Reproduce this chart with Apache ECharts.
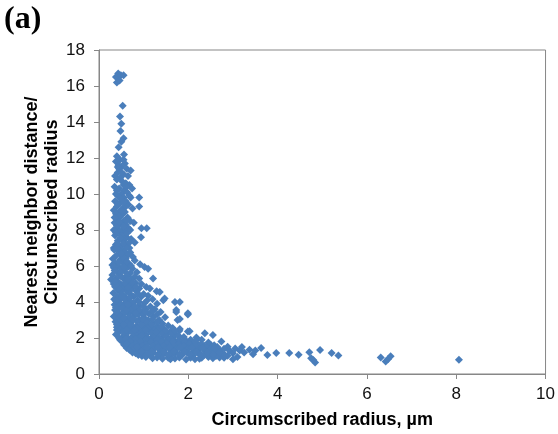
<!DOCTYPE html>
<html>
<head>
<meta charset="utf-8">
<script src="https://cdn.jsdelivr.net/npm/echarts@6/dist/echarts.min.js"></script>
<style>html,body{margin:0;padding:0;background:#fff;}#c{width:558px;height:434px;}</style>
</head>
<body>
<div id="c"></div>
<script>
// Axis ticks
const xTicks = [0, 2, 4, 6, 8, 10];
const yTicks = [0, 2, 4, 6, 8, 10, 12, 14, 16, 18];

// Data: [circumscribed radius (um), NN distance / radius]
const pointsTop = [
  [0.38,16.5],[0.43,16.7],[0.49,16.6],[0.55,16.6],[0.40,16.2],[0.46,16.3],[0.53,14.9],[0.47,14.3],
  [0.50,13.9],[0.48,13.5],[0.55,13.1],[0.50,12.9],[0.44,12.6],[0.40,12.1],[0.47,11.9],[0.56,12.2]
];
const pointsColumn = [
  [0.38,11.8],[0.44,11.6],[0.50,11.5],[0.58,11.7],[0.62,11.4],[0.71,11.3],[0.42,11.2],[0.55,11.1],[0.36,11.0],[0.48,10.9],[0.65,11.0],
  [0.40,10.8],[0.52,10.7],[0.60,10.6],[0.68,10.5],[0.35,10.4],[0.45,10.3],[0.57,10.2],[0.74,10.3],[0.38,10.0],[0.50,10.0],[0.63,10.1],
  [0.42,9.9],[0.55,9.8],[0.71,9.8],[0.90,9.8],[0.36,9.6],[0.48,9.5],[0.60,9.6],[0.66,9.4],[0.40,9.3],[0.53,9.2],[0.90,9.3],[0.75,9.2],[0.33,9.1],[0.45,9.0],[0.58,9.0],
  [0.38,8.9],[0.50,8.8],[0.64,8.7],[0.42,8.6],[0.55,8.5],[0.70,8.5],[0.35,8.4],[0.47,8.3],[0.60,8.3],[0.78,8.4],[0.40,8.1],[0.52,8.0],[0.66,8.1],[0.95,8.1],[1.07,8.1],[0.33,8.0],[0.58,7.9],
  [0.45,7.9],[0.36,7.7],[0.50,7.7],[0.62,7.6],[0.94,7.6],[0.72,7.5],[0.42,7.4],[0.55,7.4],[0.38,7.2],[0.48,7.1],[0.60,7.2],[0.68,7.0],[0.80,7.3],[0.33,7.0],[0.52,6.9],
  [0.34,6.9],[0.45,6.85],[0.58,6.8],[0.70,6.75],[0.39,6.6],[0.52,6.55],[0.64,6.6],[0.76,6.5],[0.31,6.4],[0.47,6.35],[0.60,6.4],[0.80,6.3],[0.36,6.2],[0.55,6.15],[0.68,6.1],[0.42,6.0],[0.62,5.95],[0.92,6.1],[1.02,5.95],[1.10,5.85],[0.30,6.05],
  [0.33,5.9],[0.50,5.85],[0.75,5.85],[0.40,5.7],[0.58,5.7],[0.70,5.6],[0.85,5.65],[0.30,5.5],[0.46,5.5],[0.63,5.45],[0.80,5.4],[0.27,5.25],[0.38,5.3],[0.55,5.3],[0.72,5.25],[0.90,5.3],[1.21,5.3],[0.44,5.1],[0.60,5.1],[0.82,5.05],[0.33,5.0],[0.50,4.95],[0.68,4.95],[0.95,5.0],[1.06,4.84]
];
const pointsBlob = [
  [0.36,4.85],[0.56,4.8],[0.76,4.8],[0.90,4.75],[1.14,4.75],[0.42,4.65],[0.62,4.6],[0.84,4.6],[1.29,4.6],[1.36,4.55],[0.32,4.5],[0.50,4.45],[0.70,4.45],[1.00,4.45],[0.40,4.3],[0.58,4.3],[0.78,4.3],[0.95,4.3],[1.10,4.35],[1.44,4.1],[0.34,4.15],[0.48,4.15],[0.66,4.1],[0.86,4.1],[1.20,4.15],[1.47,4.2],[1.70,4.0],[1.81,4.0],[0.42,4.0],[0.60,3.95],[0.76,3.95],[1.02,3.95],[1.30,3.9],
  [0.35,3.85],[0.52,3.8],[0.70,3.8],[0.90,3.8],[1.15,3.75],[0.44,3.65],[0.62,3.65],[0.82,3.6],[1.05,3.6],[1.25,3.6],[0.36,3.55],[1.73,3.55],[0.55,3.5],[0.75,3.45],[0.95,3.45],[1.38,3.45],[1.73,3.45],[0.40,3.35],[0.66,3.35],[0.88,3.3],[1.12,3.35],[1.30,3.3],[1.99,3.3],[1.99,3.37],[0.33,3.2],[0.50,3.2],[0.78,3.2],[1.00,3.15],[1.22,3.2],[1.48,3.15],[0.42,3.05],[0.60,3.05],[0.90,3.0],[1.10,3.0],[1.35,3.0],[1.76,3.0],[1.81,3.05],
  [0.37,2.9],[0.54,2.9],[0.72,2.85],[0.98,2.85],[1.20,2.85],[1.42,2.8],[0.46,2.75],[0.64,2.7],[0.85,2.7],[1.08,2.7],[1.30,2.65],[1.55,2.7],[0.40,2.6],[0.58,2.55],[0.78,2.55],[1.00,2.55],[1.22,2.5],[1.45,2.5],[1.81,2.5],[1.65,2.55],[0.50,2.45],[0.70,2.4],[0.92,2.4],[1.15,2.35],[1.35,2.4],[1.60,2.35],[1.80,2.4],[1.99,2.36],[2.03,2.37],[0.44,2.3],[0.62,2.25],[0.84,2.25],[1.05,2.2],[1.28,2.2],[1.50,2.2],[1.72,2.2],[2.37,2.26],[2.55,2.17],[0.55,2.1],[0.76,2.1],[0.98,2.05],[1.20,2.05],[1.42,2.05],[1.65,2.05],[1.90,2.05],[2.18,2.03],
  [0.45,2.0],[0.50,1.85],[0.58,1.8],[0.66,1.55],[0.72,1.42],[0.78,1.3],[0.38,2.2],[0.40,2.45],
  [0.70,1.62],[0.94,1.6],[1.10,1.72],[1.34,1.6],[1.60,1.62],[1.85,1.72],[2.10,1.72],[2.35,1.58],[0.88,1.88],[1.18,1.85],[1.42,1.85],[1.70,1.85],[1.95,1.85],[2.20,1.95],
  [0.65,2.0],[0.88,2.0],[1.10,1.98],[1.35,1.98],[1.60,1.98],[0.58,2.2],[0.75,2.3],[0.95,2.3],[1.18,2.28],[1.40,2.3],[1.62,2.28],[0.50,2.6],[0.68,2.62],[0.90,2.6],[1.12,2.6],[1.35,2.55],
  [0.48,2.95],[0.65,2.95],[0.85,2.95],[1.05,2.9],[1.30,2.9],[0.46,3.3],[0.58,3.4],[0.72,3.6],[0.90,3.55],[1.00,3.3],[0.68,3.15],[0.52,3.7],[0.45,3.95],[0.55,4.2],[0.70,4.65],[0.50,4.6],[0.90,4.0],[1.08,4.1],[0.82,4.85],
  [0.48,5.65],[0.65,5.95],[0.55,6.45],[0.40,7.0],[0.62,7.05],[0.48,7.55],[0.40,8.25],[0.55,8.2],[0.45,8.75],[0.60,9.3],[0.47,9.75],[0.55,10.5],[0.45,11.4]
];
const pointsFill = [
  [0.47,1.9],[0.56,1.62],[0.62,1.45],[0.68,1.35],[0.75,1.2],[0.82,1.15],[0.88,1.05],[0.96,1.0],[1.05,0.95],[1.20,0.88],[1.42,0.85],[1.70,0.86],[2.25,0.85],[2.45,0.95],[2.70,0.92],
  [0.93,1.38],[1.15,1.36],[1.40,1.36],[1.66,1.36],[1.95,1.36],[2.20,1.34],[2.45,1.32],[2.70,1.33],
  [0.78,1.73],[1.00,1.72],[1.25,1.72],[1.48,1.72],[1.72,1.72],[1.98,1.6],[2.22,1.6],[2.50,1.62],
  [0.72,1.95],[0.95,2.12],[1.25,2.12],[1.50,2.1],[1.78,2.12],[0.55,2.35],[0.80,2.45],[1.05,2.45],[1.28,2.35],[1.50,2.4],[1.70,2.4],
  [0.43,2.55],[0.62,2.45],[0.70,2.75],[0.95,2.75],[1.18,2.75],[1.40,2.65],[0.55,2.75],[0.40,2.75],
  [0.55,3.1],[0.75,3.05],[0.98,3.05],[1.20,3.05],[0.82,3.4],[1.05,3.45],[1.20,3.5],[0.62,3.55],[0.40,3.45],[0.38,3.7],[0.65,3.85],[0.80,3.75],[1.00,3.75],
  [0.38,4.05],[0.52,4.35],[0.70,4.25],[0.88,4.45],[0.45,4.75],[0.65,4.8],[0.38,4.95],[0.58,5.05],[0.75,5.1],[0.36,5.15],[0.50,5.4],[0.65,5.25],[0.35,5.75],[0.55,5.95],[0.72,6.0],
  [0.45,6.2],[0.62,6.25],[0.50,6.7],[0.42,7.25],[0.55,7.25],[0.68,7.3],[0.38,7.85],[0.62,7.8],[0.70,8.0],[0.45,8.45],[0.62,8.55],[0.35,8.7],[0.52,9.05],[0.42,9.45],[0.55,9.55],
  [0.68,9.9],[0.40,10.2],[0.62,10.4],[0.50,11.2],[0.42,11.5],[0.55,11.9]
];
const pointsBase = [
  [0.60,1.95],[0.82,1.95],[1.05,1.9],[1.30,1.9],[1.55,1.9],[1.80,1.9],[2.05,1.9],[2.30,1.9],[0.70,1.8],[0.92,1.8],[1.16,1.78],[1.40,1.78],[1.65,1.8],[1.92,1.78],[2.15,1.8],[2.45,1.75],[2.74,1.8],
  [0.62,1.7],[0.82,1.68],[1.05,1.65],[1.28,1.66],[1.52,1.68],[1.78,1.65],[2.02,1.66],[2.28,1.65],[2.58,1.6],[0.75,1.55],[0.98,1.55],[1.20,1.55],[1.45,1.55],[1.68,1.55],[1.90,1.55],[2.15,1.55],[2.40,1.5],[2.65,1.5],[2.88,1.52],
  [0.80,1.45],[1.02,1.42],[1.25,1.42],[1.50,1.42],[1.75,1.42],[2.00,1.42],[2.25,1.4],[2.50,1.38],[2.80,1.4],[3.05,1.42],[3.20,1.5],[0.90,1.3],[1.12,1.3],[1.38,1.3],[1.62,1.3],[1.88,1.3],[2.12,1.28],[2.38,1.28],[2.62,1.25],[2.92,1.3],[3.15,1.3],[3.37,1.35],
  [1.00,1.18],[1.22,1.18],[1.48,1.15],[1.72,1.18],[1.98,1.16],[2.22,1.15],[2.50,1.15],[2.75,1.12],[3.00,1.15],[3.25,1.2],[1.15,1.05],[1.40,1.02],[1.62,1.05],[1.85,1.03],[2.10,1.02],[2.35,1.05],[2.62,1.0],[2.88,1.02],[3.10,0.95],
  [1.30,0.92],[1.55,0.9],[1.80,0.92],[2.05,0.9],[2.30,0.9],[2.55,0.88],[2.80,0.9],[3.00,0.82],[1.60,0.82],[1.95,0.8],[2.15,0.82],
  [0.85,1.5],[1.08,1.48],[1.32,1.48],[1.58,1.48],[1.82,1.48],[2.08,1.48],[2.32,1.45],[2.58,1.42],[0.95,1.25],[1.18,1.24],[1.44,1.22],[1.68,1.24],[1.92,1.22],[2.18,1.22],[2.44,1.2],[2.70,1.2],
  [1.08,1.1],[1.32,1.1],[1.56,1.1],[1.80,1.1],[2.04,1.1],[2.28,1.1],[2.56,1.08],[2.82,1.06]
];
const pointsTail = [
  [3.63,1.44],[3.77,1.05],[3.97,1.16],[4.26,1.16],[4.47,1.07],[4.71,1.21],[4.75,0.88],[4.84,0.64],[4.95,1.34],
  [5.21,1.16],[5.36,1.03],[6.31,0.92],[6.42,0.7],[6.53,0.98],[8.06,0.79],[3.50,1.3],[3.45,1.1],[4.80,0.78],[6.47,0.82]
];

const allPoints = [].concat(pointsTop, pointsColumn, pointsBlob, pointsFill, pointsBase, pointsTail);

const chart = echarts.init(document.getElementById('c'), null, {renderer: 'canvas'});
const gray = '#878787';
const fontFam = '"Liberation Sans", Arial, sans-serif';
chart.setOption({
  animation: false,
  backgroundColor: '#fff',
  grid: {left: 99, right: 11, top: 50, bottom: 58, show: true, borderColor: gray, borderWidth: 1, backgroundColor: 'transparent'},
  graphic: [{
    type: 'text', left: 4, top: 4,
    style: {text: '(a)', font: 'bold 32px "Liberation Serif", "Times New Roman", serif', fill: '#000'}
  }],
  xAxis: {
    type: 'value', min: xTicks[0], max: xTicks[xTicks.length - 1], interval: 2,
    name: 'Circumscribed radius, µm', nameLocation: 'middle', nameGap: 37, nameMoveOverlap: false,
    nameTextStyle: {fontFamily: fontFam, fontWeight: 'bold', fontSize: 18, color: '#000'},
    axisLine: {show: true, lineStyle: {color: gray, width: 1}},
    axisTick: {show: true, inside: false, length: 5, lineStyle: {color: gray}},
    axisLabel: {fontFamily: fontFam, fontSize: 17, color: '#111', margin: 12},
    splitLine: {show: false}
  },
  yAxis: {
    type: 'value', min: yTicks[0], max: yTicks[yTicks.length - 1], interval: 2,
    name: 'Nearest neighbor distance/\nCircumscribed radius', nameLocation: 'middle', nameGap: 37, nameRotate: 90, nameMoveOverlap: false,
    nameTextStyle: {fontFamily: fontFam, fontWeight: 'bold', fontSize: 18, color: '#000', lineHeight: 20},
    axisLine: {show: true, lineStyle: {color: gray, width: 1}},
    axisTick: {show: true, inside: false, length: 5, lineStyle: {color: gray}},
    axisLabel: {fontFamily: fontFam, fontSize: 17, color: '#111', margin: 14},
    splitLine: {show: false}
  },
  series: [{
    type: 'scatter',
    data: allPoints,
    symbol: 'diamond',
    symbolSize: 8,
    itemStyle: {color: '#4a7ebb', opacity: 1},
    silent: true
  }]
});
</script>
</body>
</html>
